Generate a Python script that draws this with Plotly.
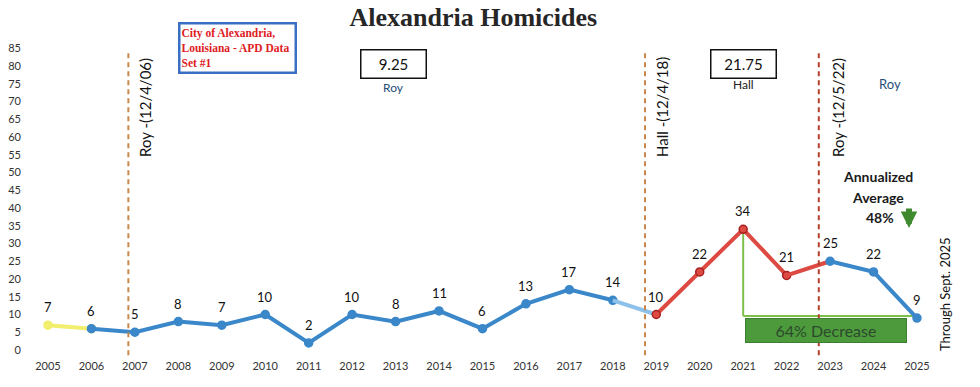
import plotly.graph_objects as go

years = list(range(2005, 2026))
homicides = [7, 6, 5, 8, 7, 10, 2, 10, 8, 11, 6, 13, 17, 14, 10, 22, 34, 21, 25, 22, 9]
y_ticks = list(range(0, 90, 5))
term_change_x = [2006.85, 2018.74, 2022.74]
term_labels = ["Roy -(12/4/06)", "Hall -(12/4/18)", "Roy -(12/5/22)"]
term_avgs = ["9.25", "21.75"]

# pixel -> data helpers for decorative placement (page pixel coords)
def X(px):
    return 2005 + (px - 48) / 43.45

def Y(py):
    return (350 - py) / 3.55

BLUE = "#3a87c9"
LBLUE = "#8ec1ea"
YELLOW = "#f2ee6e"
RED = "#dc4a42"
FONT = "Lato"

fig = go.Figure()

def seg(i0, i1, color, mcolor=None, mline=None, show_marker=True):
    fig.add_trace(go.Scatter(
        x=years[i0:i1 + 1], y=homicides[i0:i1 + 1], mode="lines+markers" if show_marker else "lines",
        line=dict(color=color, width=4),
        marker=dict(size=8, color=mcolor or color, line=dict(color=mline or mcolor or color, width=1.5)),
        hoverinfo="skip", showlegend=False))

seg(0, 1, YELLOW)
seg(1, 13, BLUE)
seg(13, 14, LBLUE, show_marker=False)
seg(14, 17, RED, mcolor=RED, mline="#a82020")
seg(17, 18, RED, show_marker=False)
seg(18, 20, BLUE)

# green decrease lines (from 2021 peak to 2025 value)
i_peak, i_last = 16, 20
green = "#7cc04a"
fig.add_shape(type="line", x0=years[i_peak], x1=years[i_peak], y0=homicides[i_peak], y1=homicides[i_last] + 0.6,
              line=dict(color=green, width=2), layer="below")
fig.add_shape(type="line", x0=years[i_peak], x1=years[i_last], y0=homicides[i_last] + 0.6, y1=homicides[i_last] + 0.6,
              line=dict(color=green, width=2), layer="below")

# term change dashed lines
dash_colors = ["#c8884c", "#c8884c", "#b5402c"]
for xv, c in zip(term_change_x, dash_colors):
    fig.add_shape(type="line", x0=xv, x1=xv, y0=-1.5, y1=84, line=dict(color=c, width=2, dash="5px,4px"))

annotations = []
# data labels
for xv, v in zip(years, homicides):
    annotations.append(dict(x=xv, y=v, text=str(v), showarrow=False, yshift=18,
                            font=dict(family=FONT, size=13, color="#111")))

# rotated term labels
for xv, lab, px in zip(term_change_x, term_labels, [145, 662, 838]):
    annotations.append(dict(x=X(px), y=Y(107), text=lab, textangle=-90, showarrow=False,
                            font=dict(family=FONT, size=15, color="#111")))

# average boxes
annotations.append(dict(x=X(394), y=Y(64), text=term_avgs[0], showarrow=False, width=60, height=23,
                        bordercolor="#111", borderwidth=1.5, borderpad=2, bgcolor="white",
                        font=dict(family=FONT, size=15, color="#111")))
annotations.append(dict(x=X(394), y=Y(88), text="Roy", showarrow=False,
                        font=dict(family=FONT, size=12, color="#1f4e79")))
annotations.append(dict(x=X(744), y=Y(64), text=term_avgs[1], showarrow=False, width=60, height=23,
                        bordercolor="#111", borderwidth=1.5, borderpad=2, bgcolor="white",
                        font=dict(family=FONT, size=15, color="#111")))
annotations.append(dict(x=X(744), y=Y(85), text="Hall", showarrow=False,
                        font=dict(family=FONT, size=12, color="#222")))
annotations.append(dict(x=X(890), y=Y(84), text="Roy", showarrow=False,
                        font=dict(family=FONT, size=13, color="#1f4e79")))

# city box
annotations.append(dict(x=X(238), y=Y(48), text="<b>City of Alexandria,<br>Louisiana - APD Data<br>Set #1</b>",
                        showarrow=False, align="left", width=112, height=45, borderpad=1,
                        bordercolor="#3a6fc4", borderwidth=2.5, bgcolor="white",
                        font=dict(family="Liberation Serif", size=11.5, color="#e0201e")))

# annualized average
for txt, px, py in [("<b>Annualized</b>", 878, 177), ("<b>Average</b>", 878, 198), ("<b>48%</b>", 880, 218)]:
    annotations.append(dict(x=X(px), y=Y(py), text=txt, showarrow=False,
                            font=dict(family=FONT, size=14, color="#1a1a1a")))
annotations.append(dict(x=X(909), y=Y(228), ax=0, ay=-21, text="", showarrow=True,
                        arrowhead=2, arrowsize=0.55, arrowwidth=6, arrowcolor="#3f8a2f"))

# 64% decrease box
annotations.append(dict(x=X(826), y=Y(330), text="64% Decrease", showarrow=False, width=158, height=21,
                        bgcolor="#4c9a3c", bordercolor="#3d7f30", borderwidth=1,
                        font=dict(family=FONT, size=16, color="#2c4a2c")))

# through sept
annotations.append(dict(x=X(945), y=Y(294), text="Through Sept. 2025", textangle=-90, showarrow=False,
                        font=dict(family=FONT, size=13, color="#111")))

fig.update_layout(
    width=980, height=387,
    margin=dict(l=22, r=20, t=40, b=29),
    paper_bgcolor="white", plot_bgcolor="white",
    title=dict(text="<b>Alexandria Homicides</b>", x=0.483, xanchor="center", y=1 - 17 / 387, yanchor="middle",
               font=dict(family="Liberation Serif", size=26, color="#262626")),
    xaxis=dict(range=[2004.402, 2025.99], tickvals=years, ticktext=[str(y) for y in years],
               showgrid=False, zeroline=False, showline=False, ticks="", automargin=False,
               tickfont=dict(family=FONT, size=11, color="#333")),
    yaxis=dict(range=[-2.254, 87.32], tickvals=y_ticks, showgrid=False, zeroline=False, showline=False,
               ticks="", automargin=False, tickfont=dict(family=FONT, size=11, color="#333")),
    annotations=annotations,
    showlegend=False,
)

fig.write_html("out.html", config={"displayModeBar": False},
               post_script="document.body.style.margin='0';")
